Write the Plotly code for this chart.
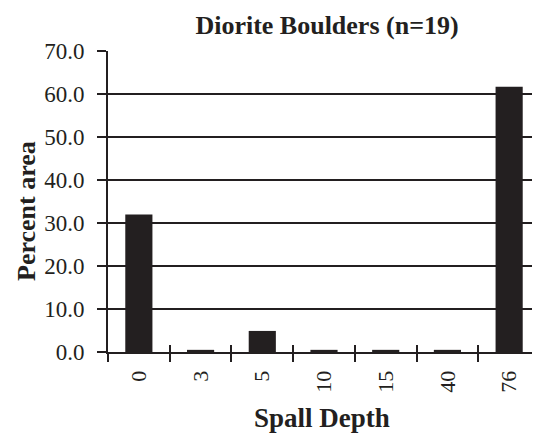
import plotly.graph_objects as go

categories = ["0", "3", "5", "10", "15", "40", "76"]
percent_area = [32.0, 0.5, 4.9, 0.5, 0.5, 0.5, 61.7]
y_ticks = [0, 10, 20, 30, 40, 50, 60, 70]
y_tick_labels = ["0.0", "10.0", "20.0", "30.0", "40.0", "50.0", "60.0", "70.0"]

FONT = "Liberation Serif, Times New Roman, serif"
INK = "#231f20"
OFF = 8  # page body margin

fig = go.Figure()
fig.add_trace(go.Bar(x=categories, y=percent_area, marker=dict(color=INK, line=dict(width=0)),
                     width=0.44, showlegend=False, hoverinfo="skip"))
# invisible trace on overlay axis to draw upward tick marks
fig.add_trace(go.Scatter(x=categories, y=percent_area, xaxis="x2", mode="markers",
                         marker=dict(opacity=0), showlegend=False, hoverinfo="skip"))

W, H = 540 - OFF, 434 - OFF
fig.update_layout(
    width=W, height=H,
    margin=dict(l=108 - OFF, r=0, t=51 - OFF, b=82),
    paper_bgcolor="white", plot_bgcolor="white",
    font=dict(family=FONT, color=INK, size=22),
    title=dict(text="<b>Diorite Boulders (n=19)</b>", x=(327 - OFF) / W, xanchor="center",
               y=1 - (25 - OFF) / H, yanchor="middle", font=dict(size=26, family=FONT, color=INK)),
    xaxis=dict(type="category", categoryorder="array", categoryarray=categories,
               tickson="boundaries", ticks="outside", ticklen=8, tickwidth=2, tickcolor=INK,
               tickangle=-90, showline=True, linecolor=INK, linewidth=2, ticklabelstandoff=8,
               showgrid=False, tickfont=dict(size=22, family=FONT, color=INK), zeroline=False),
    xaxis2=dict(type="category", categoryorder="array", categoryarray=categories,
                overlaying="x", matches="x", anchor="y", side="bottom",
                tickson="boundaries", ticks="inside", ticklen=7, tickwidth=2, tickcolor=INK,
                showticklabels=False, showline=False, showgrid=False, zeroline=False),
    yaxis=dict(range=[0, 70], tickvals=y_ticks, ticktext=y_tick_labels,
               ticks="outside", ticklen=9, tickwidth=2, tickcolor=INK, ticklabelstandoff=8,
               showgrid=True, gridcolor=INK, gridwidth=2,
               showline=True, linecolor=INK, linewidth=2, zeroline=False,
               tickfont=dict(size=23, family=FONT, color=INK)),
    annotations=[
        dict(text="<b>Percent area</b>", xref="paper", yref="paper", x=(27 - 108) / 432,
             y=(352 - 211) / 301, textangle=-90, showarrow=False, xanchor="center", yanchor="middle",
             font=dict(size=26, family=FONT, color=INK)),
        dict(text="<b>Spall Depth</b>", xref="paper", yref="paper", x=(322 - 108) / 432,
             y=(352 - 418) / 301, showarrow=False, xanchor="center", yanchor="middle",
             font=dict(size=27, family=FONT, color=INK)),
    ],
)

fig.write_html("out.html")
